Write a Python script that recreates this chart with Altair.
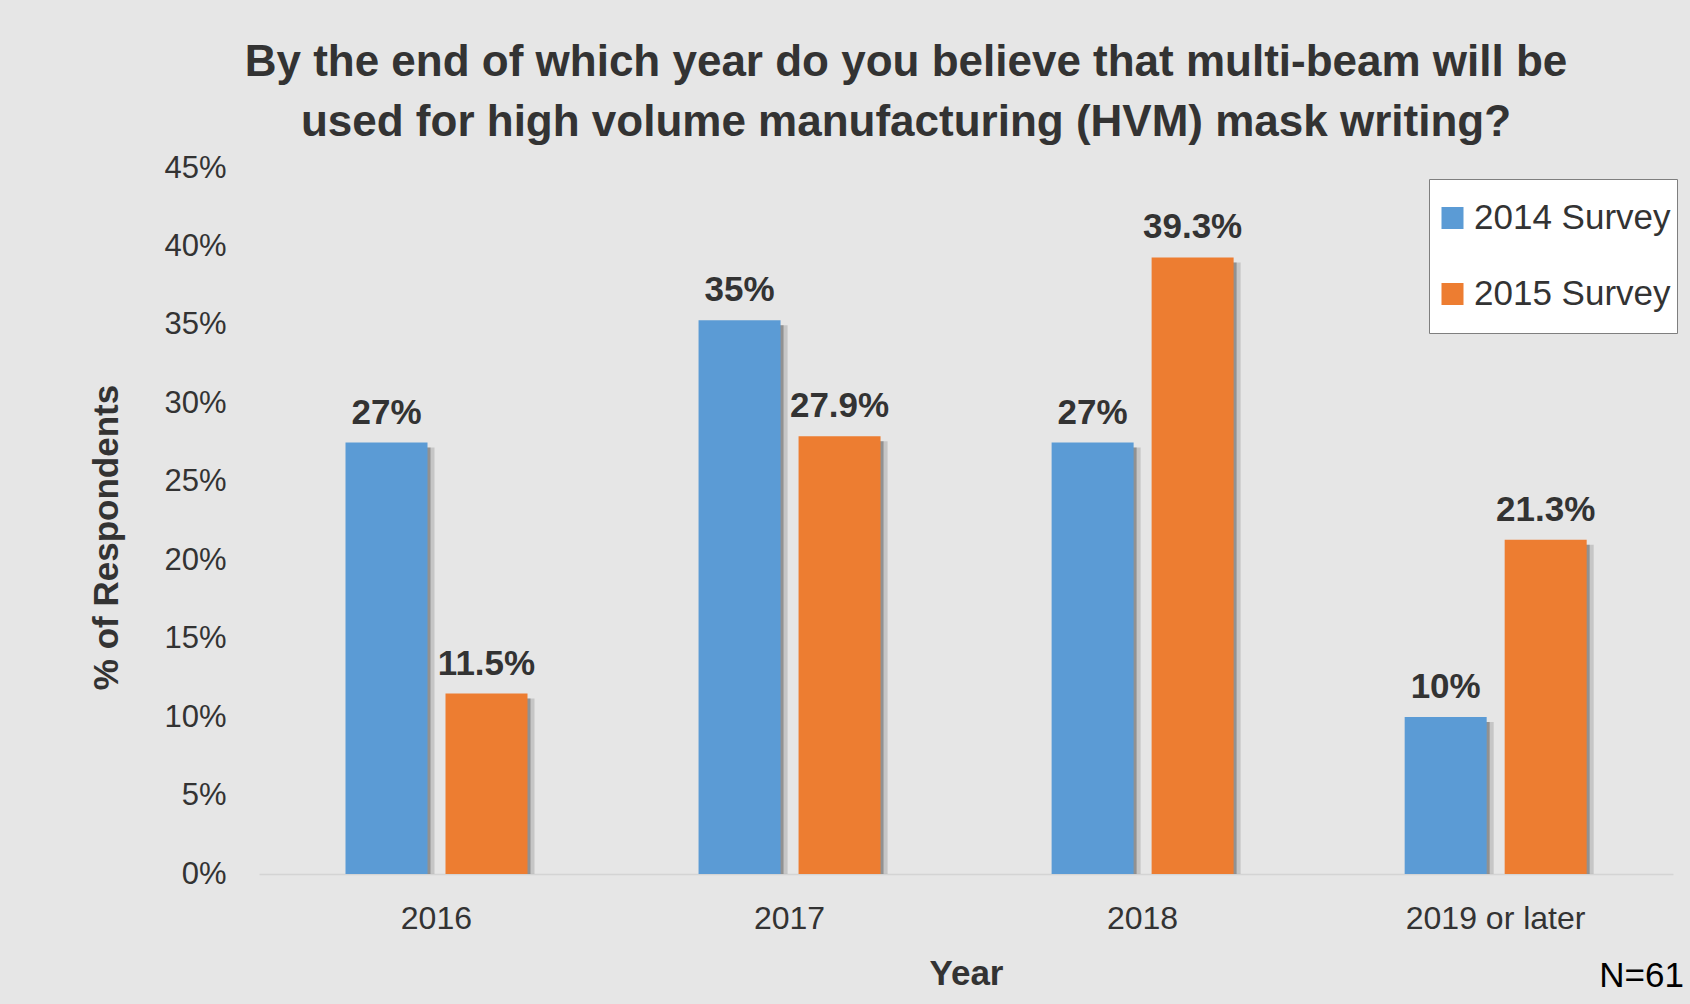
import altair as alt
import pandas as pd

categories = ["2016", "2017", "2018", "2019 or later"]
series_names = ["2014 Survey", "2015 Survey"]
values_2014 = [27.5, 35.3, 27.5, 10.0]
labels_2014 = ["27%", "35%", "27%", "10%"]
values_2015 = [11.5, 27.9, 39.3, 21.3]
labels_2015 = ["11.5%", "27.9%", "39.3%", "21.3%"]
y_ticks = [0, 5, 10, 15, 20, 25, 30, 35, 40, 45]
colors = ["#5b9bd5", "#ed7d31"]

rows = []
for c, v, l in zip(categories, values_2014, labels_2014):
    rows.append({"Year": c, "Survey": series_names[0], "value": v, "label": l})
for c, v, l in zip(categories, values_2015, labels_2015):
    rows.append({"Year": c, "Survey": series_names[1], "value": v, "label": l})
df = pd.DataFrame(rows)

FONT = "Liberation Sans, Arial, sans-serif"
TXT = "#333333"

x_enc = alt.X("Year:N", sort=categories, title="Year",
              scale=alt.Scale(paddingInner=0.485, paddingOuter=0.245))
xo_enc = alt.XOffset("Survey:N", sort=series_names,
                     scale=alt.Scale(paddingInner=0.18, paddingOuter=0, range=[0, 182]))
y_enc = alt.Y("value:Q", title="% of Respondents",
              scale=alt.Scale(domain=[0, 45], nice=False),
              axis=alt.Axis(values=y_ticks, labelExpr="datum.value + '%'"))


def shadow_layer(shift, color, opacity):
    return alt.Chart(df).mark_bar(color=color, opacity=opacity, yOffset=5, y2Offset=0).encode(
        x=x_enc,
        xOffset=alt.XOffset("Survey:N", sort=series_names,
                            scale=alt.Scale(paddingInner=0.18, paddingOuter=0,
                                            range=[shift, 182 + shift])),
        y=y_enc,
        y2=alt.datum(0),
    )


shadows = alt.layer(
    shadow_layer(7, "#8a8a8a", 0.35),
    shadow_layer(3, "#666666", 0.55),
).resolve_scale(xOffset="independent")

base = alt.Chart(df)

bars = base.mark_bar().encode(
    x=x_enc,
    xOffset=xo_enc,
    y=y_enc,
    color=alt.Color("Survey:N", sort=series_names,
                    scale=alt.Scale(domain=series_names, range=colors),
                    legend=alt.Legend(title=None, orient="none", legendX=1170, legendY=11,
                                      fillColor="white", strokeColor="#7f7f7f",
                                      padding=6, symbolType="square", symbolSize=484,
                                      symbolStrokeWidth=0, labelFontSize=35, labelFont=FONT,
                                      labelColor=TXT, rowPadding=10, clipHeight=66,
                                      labelOffset=4, labelLimit=0, symbolOffset=0)),
)

labels = base.mark_text(baseline="bottom", dy=-12, fontSize=35, fontWeight="bold",
                        font=FONT, color=TXT).encode(
    x=x_enc, xOffset=xo_enc, y=y_enc, text="label:N")

note = alt.Chart(pd.DataFrame({"t": ["N=61"]})).mark_text(
    align="right", baseline="middle", fontSize=35, font=FONT, color="#000000").encode(
    x=alt.value(1425), y=alt.value(808), text="t:N")

front = alt.layer(bars, labels, note)

chart = alt.layer(shadows, front).resolve_scale(xOffset="independent").properties(
    width=1414, height=706,
    title=alt.TitleParams(
        text=["By the end of which year do you believe that multi-beam will be",
              "used for high volume manufacturing (HVM) mask writing?"],
        fontSize=44, font=FONT, fontWeight="bold", color=TXT, anchor="middle",
        dx=-60, offset=7, lineHeight=60),
    autosize=alt.AutoSizeParams(type="none"),
    padding={"left": 259, "top": 168, "right": 17, "bottom": 130},
    background="#e6e6e6",
).configure_view(stroke=None).configure_axis(
    labelFont=FONT, titleFont=FONT, labelColor=TXT, titleColor=TXT, grid=False, ticks=False,
    labelLimit=0,
).configure_axisX(
    labelFontSize=32, labelAngle=0, labelPadding=29, domainColor="#d4d4d4", domainWidth=1.5,
    titleFontSize=35, titleFontWeight="bold", titlePadding=22,
).configure_axisY(
    labelFontSize=31, labelPadding=33, domain=False,
    titleFontSize=35, titleFontWeight="bold", titlePadding=39, titleY=369,
)

chart.save("out.html", embed_options={"renderer": "svg", "actions": False})
